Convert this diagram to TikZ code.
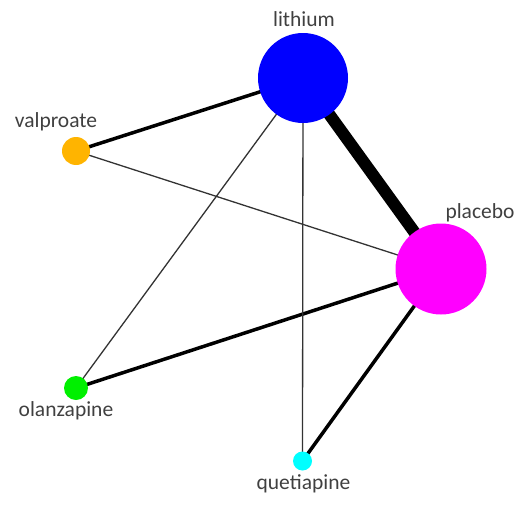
\documentclass[tikz,border=0pt]{standalone}
\usepackage{fontspec}
\setmainfont{Carlito}
\usetikzlibrary{backgrounds}
\definecolor{lab}{HTML}{404040}
\definecolor{cli}{HTML}{0000FF}
\definecolor{cva}{HTML}{FFB400}
\definecolor{cpl}{HTML}{FF00FF}
\definecolor{col}{HTML}{00F000}
\definecolor{cqu}{HTML}{00FFFF}
\definecolor{weakc}{HTML}{333333}
\begin{document}
\begin{tikzpicture}[x=1pt,y=-1pt,
  drug/.style={circle,inner sep=0pt,draw=none},
  lbl/.style={text=lab,font=\fontsize{21.5}{24}\selectfont,anchor=base,inner sep=0pt},
  heavyedge/.style={draw=black,line width=12pt},
  midedge/.style={draw=black,line width=3.5pt},
  weakedge/.style={draw=weakc,line width=1.3pt}]
\useasboundingbox (0,0) rectangle (522,514);
\node[drug,fill=cli,minimum size=90pt] (li) at (303,78) {};
\node[drug,fill=cva,minimum size=28pt] (va) at (76,151) {};
\node[drug,fill=cpl,minimum size=91pt] (pl) at (441,269) {};
\node[drug,fill=col,minimum size=24pt] (ol) at (76,388) {};
\node[drug,fill=cqu,minimum size=19pt] (qu) at (302.5,461) {};
\node[lbl] (tli) at (304,27) {lithium};
\node[lbl] (tva) at (56,127) {valproate};
\node[lbl] (tpl) at (480,218) {placebo};
\node[lbl] (tol) at (66,416) {olanzapine};
\node[lbl] (tqu) at (303.5,489) {quetiapine};
\begin{scope}[on background layer]
\draw[heavyedge] (li.center) -- (pl.center);
\draw[midedge] (li.center) -- (va.center);
\draw[midedge] (pl.center) -- (ol.center);
\draw[midedge] (pl.center) -- (qu.center);
\draw[weakedge] (va.center) -- (pl.center);
\draw[weakedge] (li.center) -- (ol.center);
\draw[weakedge] (li.center) -- (qu.center);
\end{scope}
\end{tikzpicture}
\end{document}
